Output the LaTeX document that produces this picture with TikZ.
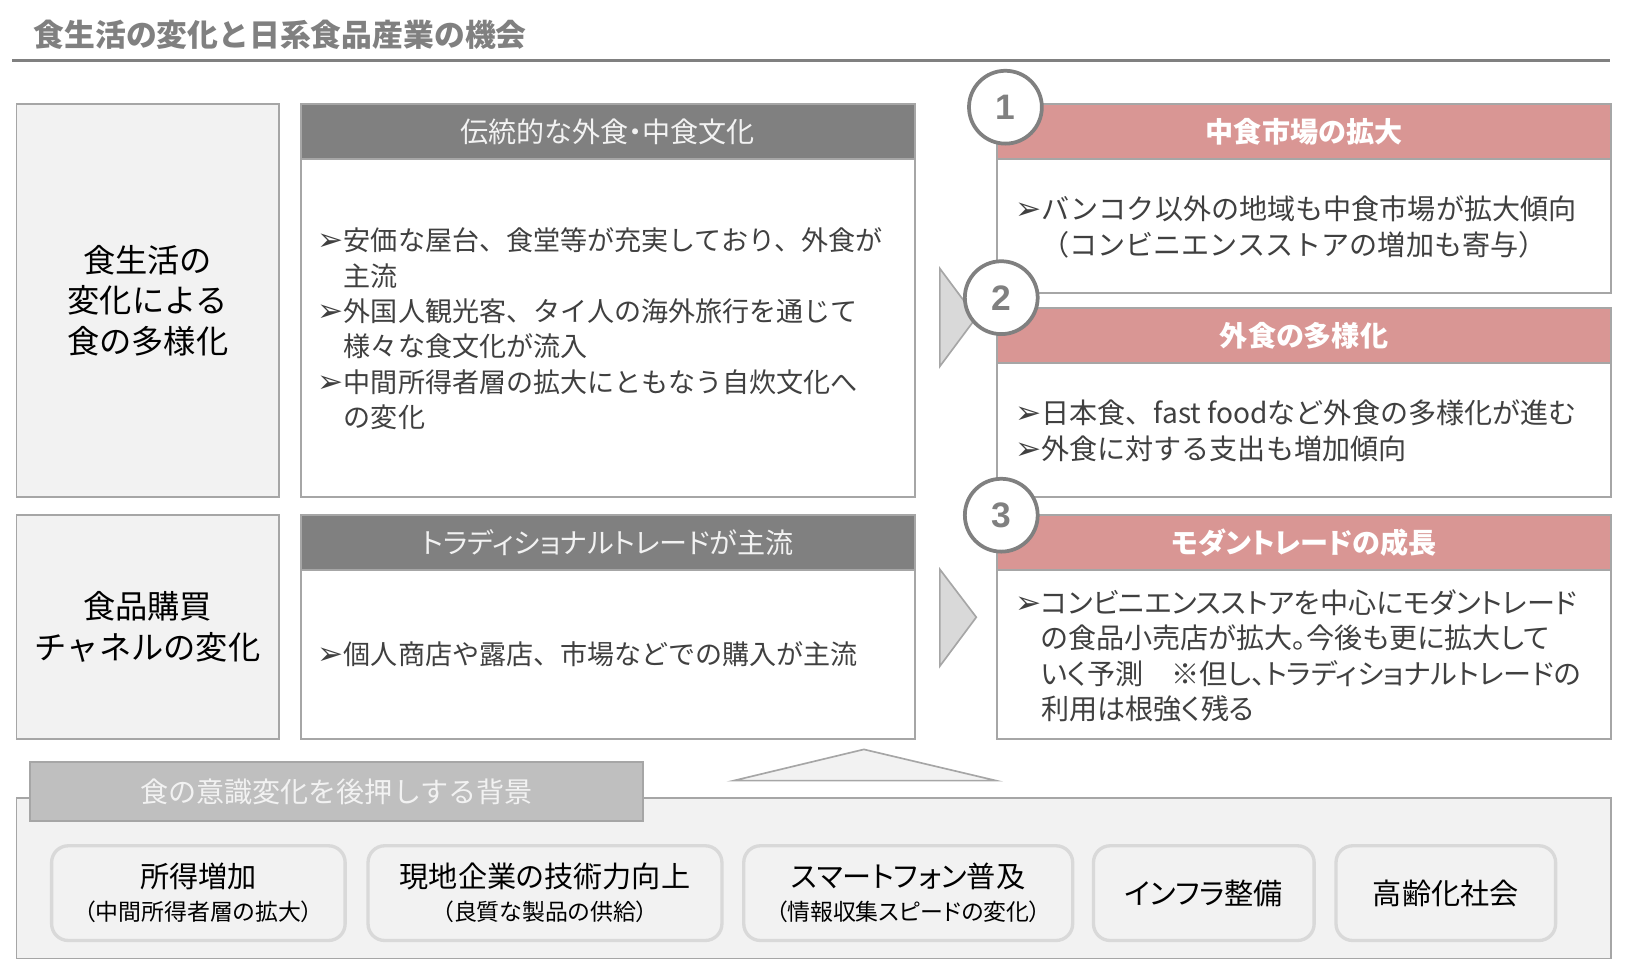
\documentclass[tikz,border=0pt]{standalone}
\usepackage{fontspec}
\setmainfont{Noto Sans CJK JP}
\newfontfamily\symfont{DejaVu Sans}
\newfontfamily\numfont{Liberation Sans}
\usetikzlibrary{positioning}
\definecolor{framegray}{HTML}{A6A6A6}
\definecolor{panelgray}{HTML}{F2F2F2}
\definecolor{headgray}{HTML}{808080}
\definecolor{headrose}{HTML}{D99694}
\definecolor{softgray}{HTML}{D9D9D9}
\definecolor{labelgray}{HTML}{BFBFBF}
\definecolor{inkgray}{HTML}{404040}
\newcommand{\bul}{\makebox[12.5pt][l]{\symfont\fontsize{15pt}{15pt}\selectfont ➢}}
\newcommand{\ind}{\hspace*{12.5pt}}
\newcommand{\prop}{\addfontfeatures{RawFeature=+palt}}

\begin{document}
\begin{tikzpicture}[x=1pt, y=-1pt,
    side/.style = {draw=framegray, line width=0.9pt, fill=panelgray, anchor=north west, inner sep=0, minimum width=126pt, align=center, text=black, font=\fontsize{15.5pt}{19.5pt}\selectfont},
    body/.style = {draw=framegray, line width=0.9pt, fill=white, anchor=north west, inner sep=0, minimum width=295pt},
    darkhead/.style = {draw=framegray, line width=0.9pt, fill=headgray, text=panelgray, anchor=north west, inner sep=0, minimum width=295pt, minimum height=26.5pt, font=\fontsize{13.5pt}{16pt}\selectfont\prop},
    rosehead/.style = {darkhead, fill=headrose, text=white, font=\fontsize{13.5pt}{16pt}\selectfont\bfseries\prop},
    bullets/.style = {anchor=west, inner sep=0, align=left, text=inkgray, font=\fontsize{13pt}{17pt}\selectfont},
    num/.style = {circle, draw=headgray, line width=1.8pt, fill=white, minimum size=35pt, inner sep=0, text=headgray, font=\numfont\bfseries\fontsize{17pt}{17pt}\selectfont},
    factor/.style = {draw=softgray, line width=1.6pt, fill=panelgray, rounded corners=8pt, anchor=north west, minimum height=45.5pt, inner sep=0, align=center, text=black, font=\fontsize{14pt}{16pt}\selectfont\prop},
    wedge/.style = {draw=framegray, line width=0.8pt, fill=softgray}]
  \useasboundingbox (0,0) rectangle (784,465.5);

  % title
  \node[anchor=west, inner sep=0, text=headgray, font=\fontsize{14.8pt}{16pt}\selectfont\bfseries] (title) at (16,16.5) {食生活の変化と日系食品産業の機会};
  \coordinate (rulel) at (6,29);
  \coordinate (ruler) at (773.5,29);
  \draw[headgray, line width=1.5pt] (rulel) -- (ruler);

  % left column
  \node[side, minimum height=189pt] (ltop) at (7.5,49.5) {食生活の\\変化による\\食の多様化};
  \node[side, minimum height=107.5pt] (lbot) at (7.5,247) {食品購買\\チャネルの変化};

  % middle column
  \node[body, minimum height=189pt] (mtop) at (144,49.5) {};
  \node[darkhead] (mtophead) at (144,49.5) {伝統的な外食・中食文化};
  \node[bullets] (mtoptext) at (152.5,158) {\bul 安価な屋台、食堂等が充実しており、外食が\\ \ind 主流\\ \bul 外国人観光客、タイ人の海外旅行を通じて\\ \ind 様々な食文化が流入\\ \bul 中間所得者層の拡大にともなう自炊文化へ\\ \ind の変化};
  \node[body, minimum height=107.5pt] (mbot) at (144,247) {};
  \node[darkhead] (mbothead) at (144,247) {トラディショナルトレードが主流};
  \node[bullets] (mbottext) at (152.5,314.5) {\bul 個人商店や露店、市場などでの購入が主流};

  % arrows between columns
  \draw[wedge] (451.5,129) -- (451.5,176) -- (469,152.5) -- cycle;
  \draw[wedge] (451.5,273.5) -- (451.5,320) -- (469,296.5) -- cycle;

  % right column
  \node[body, minimum height=91pt] (r1) at (478.5,49.5) {};
  \node[rosehead] (r1head) at (478.5,49.5) {中食市場の拡大};
  \node[bullets, font=\fontsize{13.5pt}{17pt}\selectfont] (r1text) at (487.5,109) {\bul バンコク以外の地域も中食市場が拡大傾向\\ \ind （コンビニエンスストアの増加も寄与）};
  \node[body, minimum height=91pt] (r2) at (478.5,147.5) {};
  \node[rosehead] (r2head) at (478.5,147.5) {外食の多様化};
  \node[bullets, font=\fontsize{13.5pt}{17pt}\selectfont] (r2text) at (487.5,207) {\bul 日本食、fast foodなど外食の多様化が進む\\ \bul 外食に対する支出も増加傾向};
  \node[body, minimum height=107.5pt] (r3) at (478.5,247) {};
  \node[rosehead] (r3head) at (478.5,247) {モダントレードの成長};
  \node[bullets, font=\fontsize{13.5pt}{17pt}\selectfont\prop] (r3text) at (487.5,315) {\bul コンビニエンスストアを中心にモダントレード\\ \ind の食品小売店が拡大。今後も更に拡大して\\ \ind いく予測\quad ※但し、トラディショナルトレードの\\ \ind 利用は根強く残る};

  \node[num] (n1) at (483,51.5) {1};
  \node[num] (n2) at (481,143) {2};
  \node[num] (n3) at (481,247.5) {3};

  % background factors
  \draw[wedge, fill=panelgray] (352.5,375) -- (415,360) -- (478.5,375) -- cycle;
  \node[draw=framegray, line width=0.9pt, fill=panelgray, anchor=north west, inner sep=0, minimum width=766pt, minimum height=77pt] (bg) at (7.5,383) {};
  \node[draw=framegray, line width=0.9pt, fill=labelgray, anchor=north west, inner sep=0, minimum width=294.5pt, minimum height=28.5pt, text=panelgray, font=\fontsize{13.5pt}{16pt}\selectfont] (bglabel) at (14,365.5) {食の意識変化を後押しする背景};
  \node[factor, minimum width=141pt] (f1) at (24,405.5) {所得増加\\{\fontsize{11pt}{16pt}\selectfont （中間所得者層の拡大）}};
  \node[factor, minimum width=170pt] (f2) at (176,405.5) {現地企業の技術力向上\\{\fontsize{11pt}{16pt}\selectfont （良質な製品の供給）}};
  \node[factor, minimum width=158pt] (f3) at (356.5,405.5) {スマートフォン普及\\{\fontsize{11pt}{16pt}\selectfont （情報収集スピードの変化）}};
  \node[factor, minimum width=106pt] (f4) at (524.5,405.5) {インフラ整備};
  \node[factor, minimum width=105.5pt] (f5) at (641,405.5) {高齢化社会};
\end{tikzpicture}
\end{document}
